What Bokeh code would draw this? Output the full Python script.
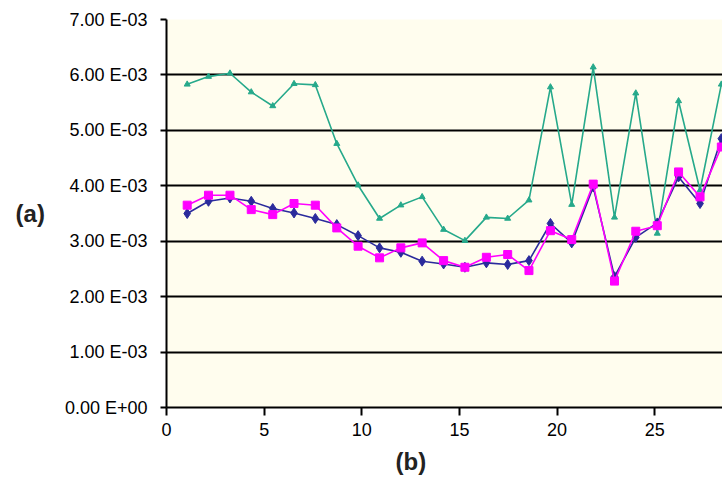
from bokeh.plotting import figure
from bokeh.models import Range1d, FixedTicker, CustomJSTickFormatter, Title
from bokeh.embed import file_html
from bokeh.resources import INLINE

# ---- data ----
x_vals = [1.06, 2.15, 3.25, 4.34, 5.44, 6.53, 7.62, 8.72, 9.81, 10.91,
          12.00, 13.09, 14.19, 15.28, 16.38, 17.47, 18.56, 19.66, 20.75, 21.85,
          22.94, 24.03, 25.13, 26.22, 27.32, 28.41]

teal = [5.83e-3, 5.97e-3, 6.03e-3, 5.69e-3, 5.44e-3, 5.84e-3, 5.82e-3, 4.76e-3, 4.01e-3, 3.41e-3,
        3.65e-3, 3.80e-3, 3.21e-3, 3.01e-3, 3.43e-3, 3.41e-3, 3.74e-3, 5.78e-3, 3.66e-3, 6.14e-3,
        3.43e-3, 5.67e-3, 3.14e-3, 5.53e-3, 3.92e-3, 5.83e-3]

navy = [3.50e-3, 3.72e-3, 3.78e-3, 3.72e-3, 3.59e-3, 3.51e-3, 3.41e-3, 3.30e-3, 3.10e-3, 2.88e-3,
        2.80e-3, 2.64e-3, 2.59e-3, 2.53e-3, 2.61e-3, 2.58e-3, 2.65e-3, 3.32e-3, 2.97e-3, 3.98e-3,
        2.36e-3, 3.07e-3, 3.33e-3, 4.16e-3, 3.68e-3, 4.85e-3]

magenta = [3.65e-3, 3.83e-3, 3.83e-3, 3.57e-3, 3.48e-3, 3.68e-3, 3.65e-3, 3.24e-3, 2.91e-3, 2.70e-3,
           2.88e-3, 2.97e-3, 2.65e-3, 2.53e-3, 2.71e-3, 2.76e-3, 2.47e-3, 3.19e-3, 3.03e-3, 4.03e-3,
           2.28e-3, 3.18e-3, 3.28e-3, 4.25e-3, 3.80e-3, 4.70e-3]

x_ticks = [0, 5, 10, 15, 20, 25]
y_ticks = [0, 1e-3, 2e-3, 3e-3, 4e-3, 5e-3, 6e-3, 7e-3]
grid_ticks = [1e-3, 2e-3, 3e-3, 4e-3, 5e-3, 6e-3]

label_a = "(a)"
label_b = "(b)"

# ---- figure ----
p = figure(width=722, height=493, output_backend="svg", toolbar_location=None,
           x_range=Range1d(0, 28.47), y_range=Range1d(0, 7e-3),
           min_border_left=166, min_border_right=0, min_border_top=19, min_border_bottom=86)

p.background_fill_color = "#FFFDEE"
p.border_fill_color = "white"
p.outline_line_color = None

FONT = "Liberation Sans"

# axes
p.xaxis.ticker = FixedTicker(ticks=x_ticks)
p.yaxis.ticker = FixedTicker(ticks=y_ticks)
p.yaxis.formatter = CustomJSTickFormatter(code="""
    if (Math.abs(tick) < 1e-12) { return "0.00 E+00"; }
    return (tick * 1000).toFixed(2) + " E-03";
""")
for ax in (p.xaxis[0], p.yaxis[0]):
    ax.axis_line_color = "black"
    ax.axis_line_width = 2
    ax.major_tick_line_color = "black"
    ax.major_tick_line_width = 2
    ax.major_tick_in = 0
    ax.minor_tick_line_color = None
    ax.major_label_text_font = FONT
    ax.major_label_text_font_size = "18px"
    ax.major_label_text_color = "black"
p.yaxis.major_tick_out = 6
p.yaxis.major_label_standoff = 13
p.xaxis.major_tick_out = 8
p.xaxis.major_label_standoff = 7

# (a) as horizontal y-axis label
p.yaxis.axis_label = label_a
p.yaxis.axis_label_orientation = "horizontal"
p.yaxis.axis_label_text_font = FONT
p.yaxis.axis_label_text_font_size = "24px"
p.yaxis.axis_label_text_font_style = "bold"
p.yaxis.axis_label_text_color = "#222222"
p.yaxis.axis_label_standoff = 17

# (b) as a title below the x axis
p.add_layout(Title(text=label_b, align="left", offset=229, text_font=FONT,
                   text_font_size="24px", text_font_style="bold",
                   text_color="#222222", standoff=14), "below")

# grid
p.xgrid.grid_line_color = None
p.ygrid.ticker = FixedTicker(ticks=grid_ticks)
p.ygrid.grid_line_color = "black"
p.ygrid.grid_line_width = 2

# series
p.line(x_vals, teal, line_color="#26A98B", line_width=1.6)
p.scatter(x_vals, teal, marker="triangle", size=6, fill_color="#26A98B", line_color="#26A98B")

p.line(x_vals, navy, line_color="#2B2B9C", line_width=1.6)
p.scatter(x_vals, navy, marker="diamond", size=10, fill_color="#2B2B9C", line_color="#2B2B9C")

p.line(x_vals, magenta, line_color="#FF00FF", line_width=1.6)
p.scatter(x_vals, magenta, marker="square", size=8, fill_color="#FF00FF", line_color="#FF00FF")

open("out.html", "w").write(file_html(p, INLINE))
